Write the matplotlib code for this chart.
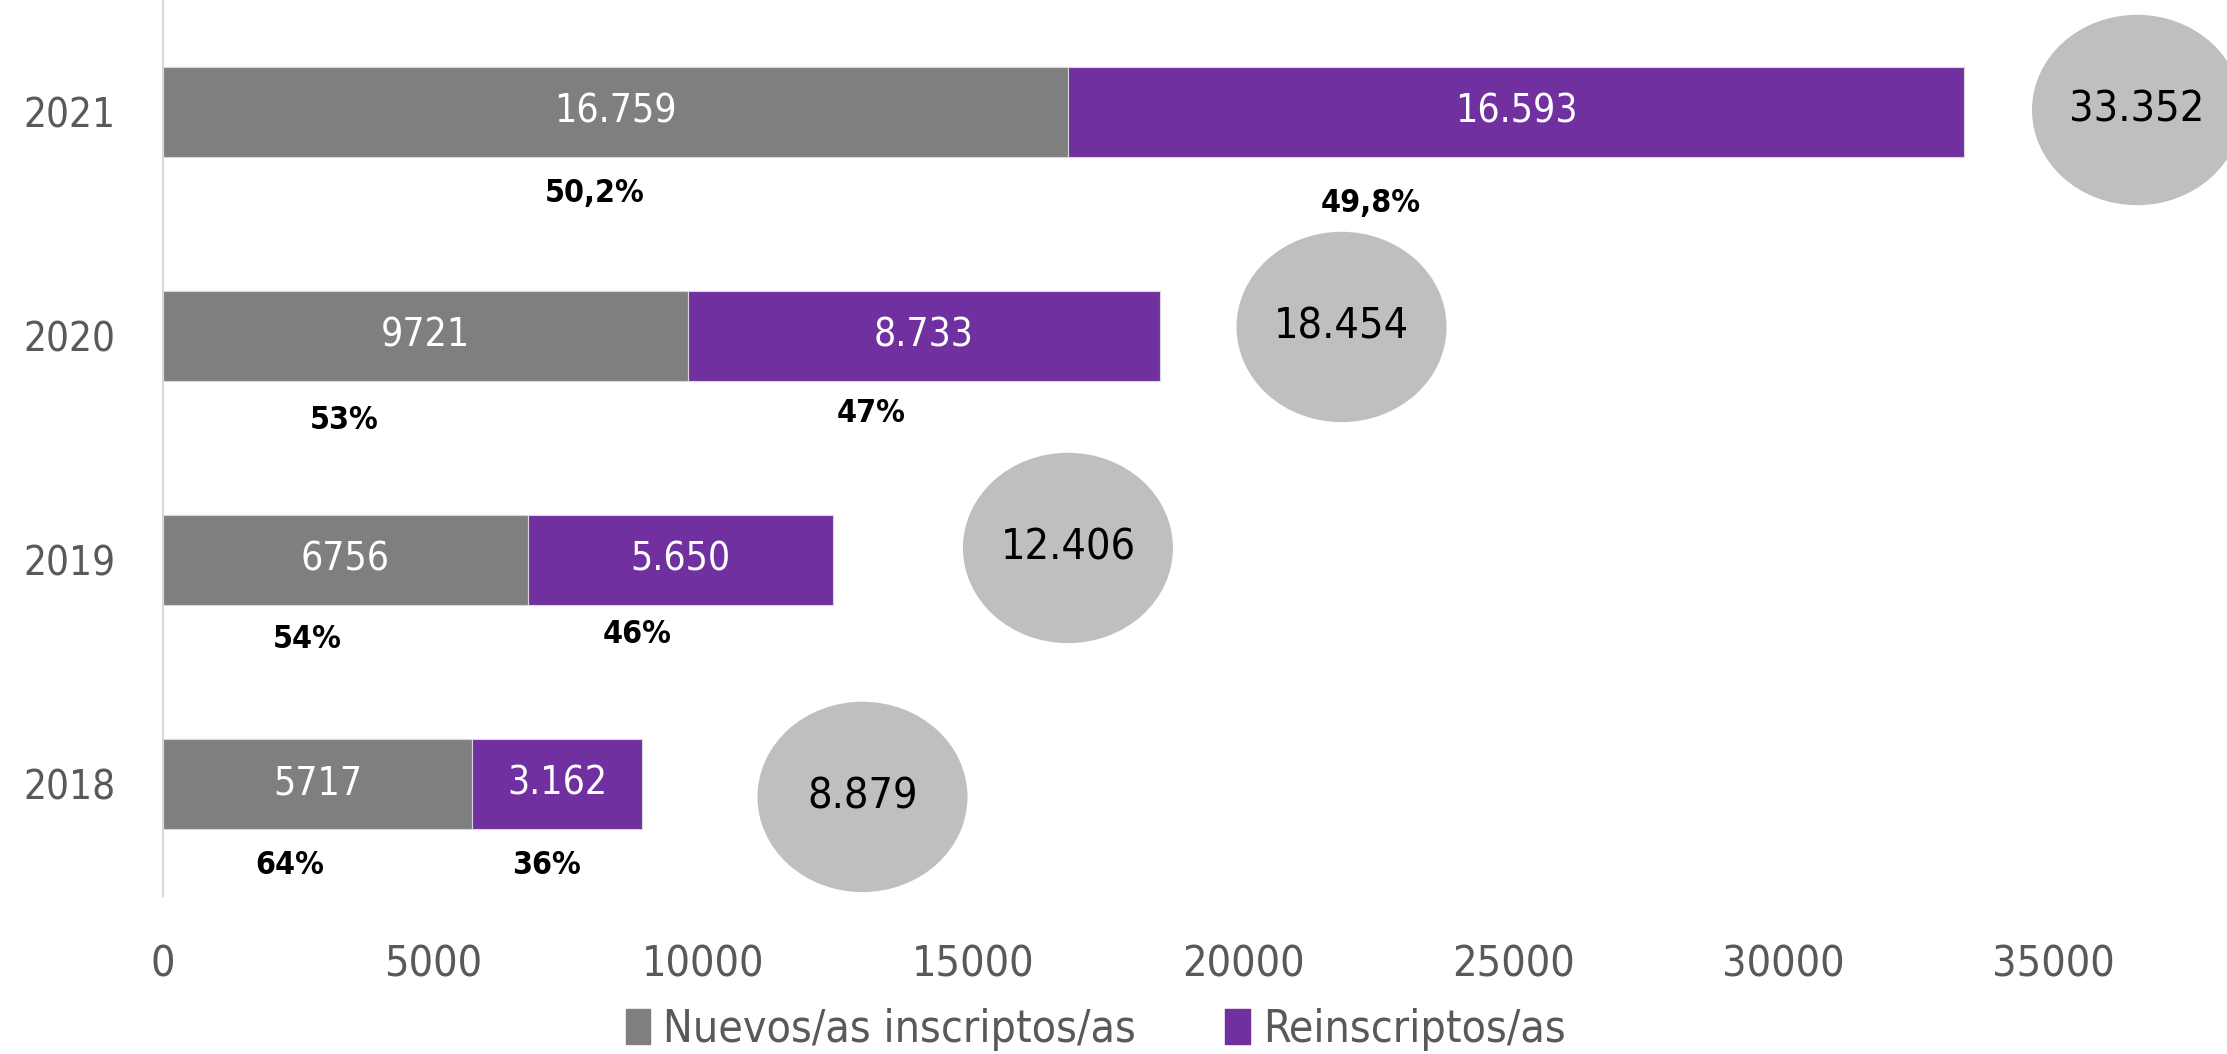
import matplotlib
matplotlib.use('Agg')
import matplotlib.pyplot as plt
from matplotlib.patches import Ellipse, Patch

years = ['2018', '2019', '2020', '2021']
nuevos = [5717, 6756, 9721, 16759]
reins = [3162, 5650, 8733, 16593]
totales = [8879, 12406, 18454, 33352]
lab_nuevos = ['5717', '6756', '9721', '16.759']
lab_reins = ['3.162', '5.650', '8.733', '16.593']
lab_tot = ['8.879', '12.406', '18.454', '33.352']
pct_nuevos = ['64%', '54%', '53%', '50,2%']
pct_reins = ['36%', '46%', '47%', '49,8%']

GRIS = '#7F7F7F'
VIOLETA = '#7030A0'
CIRC = '#BFBFBF'
TXT = '#595959'
DPI = 100
px = 72 / DPI

plt.rcParams['font.family'] = ['DejaVu Sans']
plt.rcParams['font.stretch'] = 'condensed'

fig = plt.figure(figsize=(22.27, 10.54), dpi=DPI)
ax = fig.add_axes([0.0732, 0.15, 0.9268, 0.85])

y = list(range(len(years)))
ax.barh(y, nuevos, height=0.4, color=GRIS, edgecolor='#D9D9D9', linewidth=0.8)
ax.barh(y, reins, left=nuevos, height=0.4, color=VIOLETA, edgecolor='#D9D9D9', linewidth=0.8)

# nudges of the hand-placed percentage labels (pixels)
nud_n = [(-28, 82), (-38, 80), (-81, 85), (-21, 82)]
nud_r = [(-11, 82), (-43, 75), (-53, 78), (-145, 92)]
# placement of the total bubbles relative to the bar end (pixels)
nud_c = [(220, -13), (235, 12), (182, 9), (173, 2)]

# pixels per data unit on x
sx = 2064 / 38222

for i in y:
    cn = nuevos[i] / 2
    cr = nuevos[i] + reins[i] / 2
    ax.text(cn, i, lab_nuevos[i], color='white', ha='center', va='center', fontsize=28)
    ax.text(cr, i, lab_reins[i], color='white', ha='center', va='center', fontsize=28)
    ax.annotate(pct_nuevos[i], (cn, i), xytext=(nud_n[i][0] * px, -nud_n[i][1] * px),
                textcoords='offset points', ha='center', va='center', fontsize=23,
                fontweight='bold', color='black')
    ax.annotate(pct_reins[i], (cr, i), xytext=(nud_r[i][0] * px, -nud_r[i][1] * px),
                textcoords='offset points', ha='center', va='center', fontsize=23,
                fontweight='bold', color='black')
    xc = totales[i] + nud_c[i][0] / sx
    yc = i + nud_c[i][1] / 224
    ax.add_patch(Ellipse((xc, yc), 3890, 0.85, facecolor=CIRC, edgecolor='none'))
    ax.text(xc, yc, lab_tot[i], ha='center', va='center', fontsize=31, color='black')

ax.set_xlim(0, 38222)
ax.set_ylim(-0.5, 3.5)
ax.set_yticks(y)
ax.set_yticklabels(years)
ax.set_xticks(range(0, 35001, 5000))
ax.tick_params(axis='x', length=0, pad=34, labelsize=31, labelcolor=TXT)
ax.tick_params(axis='y', length=0, pad=34, labelsize=29, labelcolor=TXT)
for s in ['top', 'right', 'bottom']:
    ax.spines[s].set_visible(False)
ax.spines['left'].set_color('#D9D9D9')
ax.spines['left'].set_linewidth(1.5)

handles = [Patch(color=GRIS, label='Nuevos/as inscriptos/as'),
           Patch(color=VIOLETA, label='Reinscriptos/as')]
leg = fig.legend(handles=handles, loc='lower center', bbox_to_anchor=(0.492, -0.035), ncol=2,
                 frameon=False, fontsize=32, handlelength=0.55, handleheight=0.85,
                 handletextpad=0.3, columnspacing=2.0)
for t in leg.get_texts():
    t.set_color(TXT)

fig.savefig('out.png', dpi=DPI)
